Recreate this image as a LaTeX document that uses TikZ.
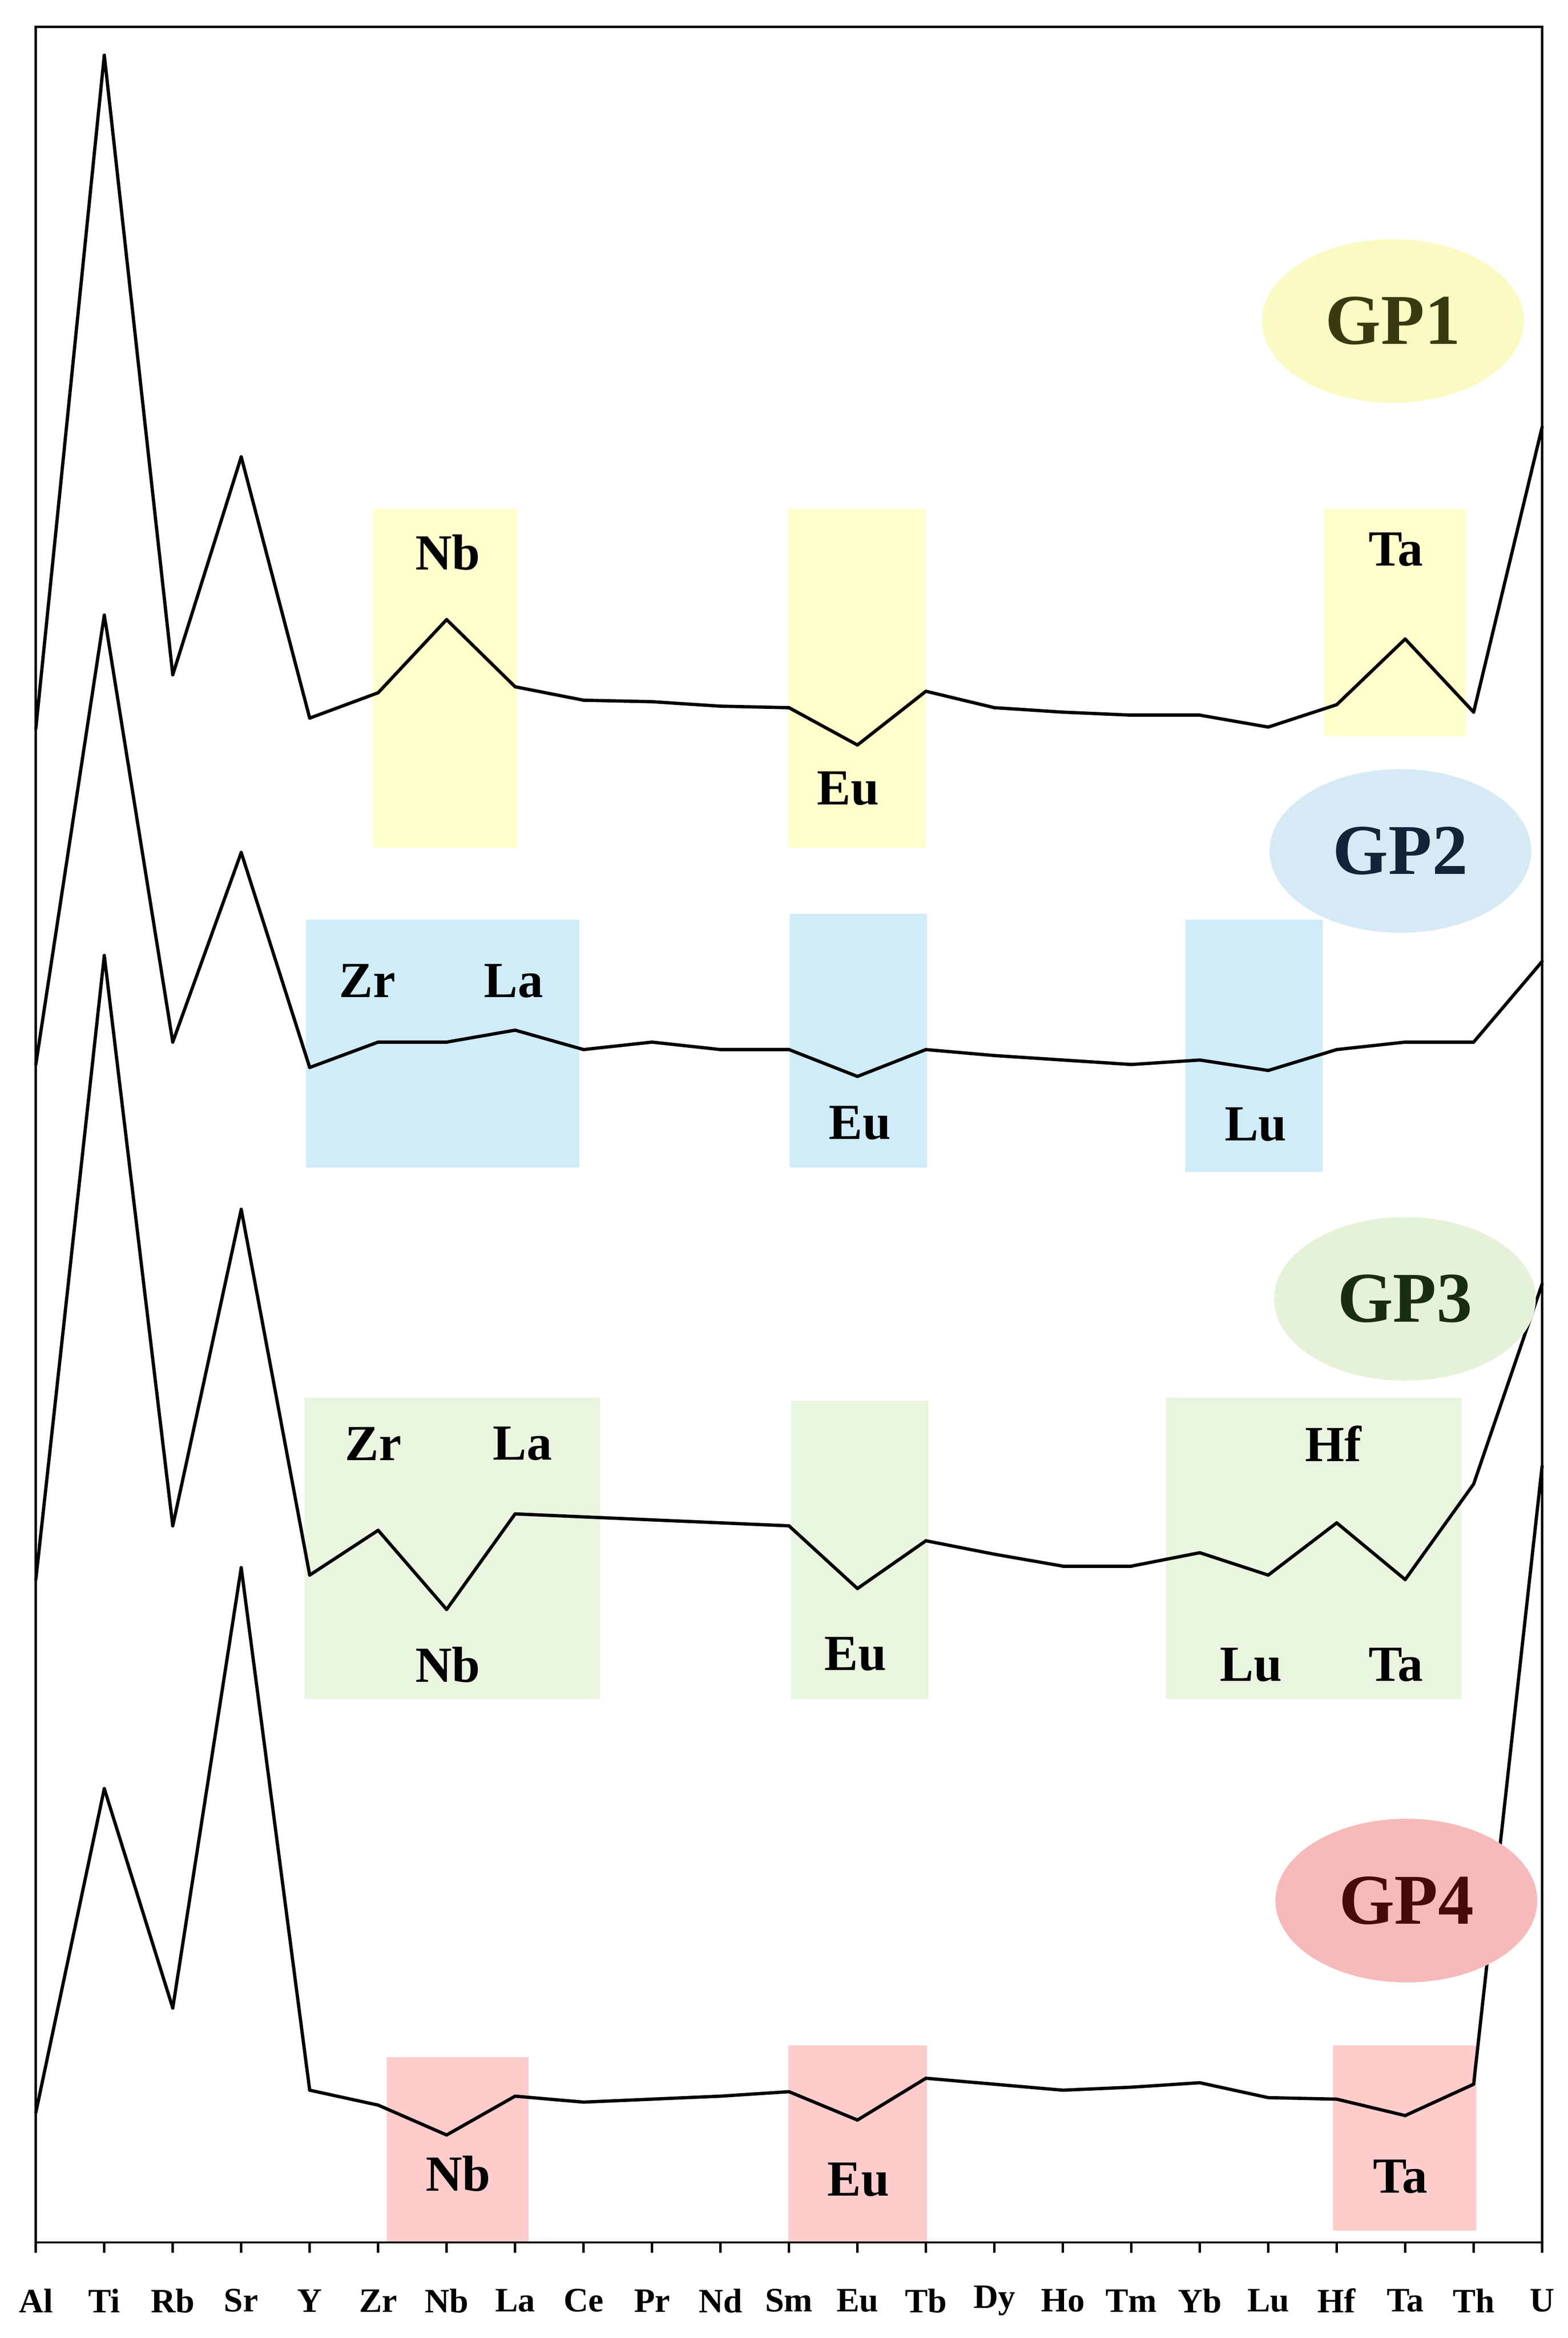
\documentclass[tikz,border=0pt]{standalone}
\usepackage{fontspec}
\setmainfont{Liberation Serif}
\definecolor{gpyellow}{RGB}{255,255,204}
\definecolor{gpblue}{RGB}{208,236,248}
\definecolor{gpgreen}{RGB}{234,245,224}
\definecolor{gppink}{RGB}{255,204,204}
\definecolor{ellyellow}{RGB}{250,250,195}
\definecolor{ellblue}{RGB}{214,234,245}
\definecolor{ellgreen}{RGB}{230,242,216}
\definecolor{ellpink}{RGB}{246,186,186}
\tikzset{
  elabel/.style={font=\fontsize{34}{38}\selectfont\bfseries, inner sep=0.75pt},
  axlabel/.style={font=\fontsize{23}{26}\selectfont\bfseries, inner sep=0.75pt},
  gptag/.style={ellipse, minimum width=176, minimum height=110, inner sep=0pt, font=\fontsize{48}{52}\selectfont\bfseries},
  curve/.style={line width=2.2, line cap=round},
}
\usetikzlibrary{shapes.geometric}
\begin{document}
\begin{tikzpicture}[x=1bp,y=1bp,yscale=-1]
\useasboundingbox (0,0) rectangle (1050,1566);

%Highlight boxes GP1
\fill [gpyellow] (250,341) rectangle (346,568);
\fill [gpyellow] (528,341) rectangle (620,568);
\fill [gpyellow] (887,341) rectangle (982,493);
%Highlight boxes GP2
\fill [gpblue] (205,616) rectangle (388,782);
\fill [gpblue] (529,612) rectangle (621,782);
\fill [gpblue] (794,616) rectangle (886,785);
%Highlight boxes GP3
\fill [gpgreen] (204,936) rectangle (402,1138);
\fill [gpgreen] (530,938) rectangle (622,1138);
\fill [gpgreen] (781,936) rectangle (979,1138);
%Highlight boxes GP4
\fill [gppink] (259,1378) rectangle (354,1502);
\fill [gppink] (528,1370) rectangle (621,1502);
\fill [gppink] (893,1370) rectangle (989,1494);

%Frame
\draw [line width=1.5] (24,18) rectangle (1033,1502);

%Axis ticks and element labels
\foreach \el [count=\i from 0] in {Al,Ti,Rb,Sr,Y,Zr,Nb,La,Ce,Pr,Nd,Sm,Eu,Tb,Dy,Ho,Tm,Yb,Lu,Hf,Ta,Th,U} {
  \draw [line width=1.5] ({24+\i*45.86},1502) -- ({24+\i*45.86},1509);
  \node (ax\el) [axlabel] at ({24+\i*45.86},1541) {\el};
}

%Curves
\foreach \ys in {
  {488,37,452,306,481,464,415,460,469,470,473,474,499,463,474,477,479,479,487,472,428,477,286},
  {713,412,698,571,715,698,698,690,703,698,703,703,721,703,707,710,713,710,717,703,698,698,644},
  {1058,640,1022,810,1055,1025,1078,1014,1016,1018,1020,1022,1064,1032,1041,1049,1049,1040,1055,1020,1058,994,860},
  {1415,1198,1345,1050,1400,1410,1430,1404,1408,1406,1404,1401,1420,1392,1396,1400,1398,1395,1405,1406,1417,1396,982}} {
  \foreach \y [count=\i from 0, remember=\y as \yp (initially 0)] in \ys {
    \ifnum\i>0
      \draw [curve] ({24+(\i-1)*45.86},\yp) -- ({24+\i*45.86},\y);
    \fi
  }
}

%Group tags
\node (gp1) [gptag, fill=ellyellow, text={rgb,255:red,58;green,58;blue,16}] at (933,215) {GP1};
\node (gp2) [gptag, fill=ellblue, text={rgb,255:red,20;green,35;blue,55}] at (938,570) {GP2};
\node (gp3) [gptag, fill=ellgreen, text={rgb,255:red,25;green,45;blue,20}] at (941,870) {GP3};
\node (gp4) [gptag, fill=ellpink, text={rgb,255:red,70;green,10;blue,10}] at (942,1273) {GP4};

% Text Nodes GP1
\node (nba) [elabel] at (300,370) {Nb};
\node (eua) [elabel] at (568,528) {Eu};
\node (taa) [elabel] at (935,368) {Ta};
% Text Nodes GP2
\node (zrb) [elabel] at (246,657) {Zr};
\node (lab) [elabel] at (344,657) {La};
\node (eub) [elabel] at (576,752) {Eu};
\node (lub) [elabel] at (841,753) {Lu};
% Text Nodes GP3
\node (zrc) [elabel] at (250,967) {Zr};
\node (lac) [elabel] at (350,967) {La};
\node (nbc) [elabel] at (300,1115) {Nb};
\node (euc) [elabel] at (573,1108) {Eu};
\node (hfc) [elabel] at (893,967) {Hf};
\node (luc) [elabel] at (838,1115) {Lu};
\node (tac) [elabel] at (935,1115) {Ta};
% Text Nodes GP4
\node (nbd) [elabel] at (307,1456) {Nb};
\node (eud) [elabel] at (575,1460) {Eu};
\node (tad) [elabel] at (938,1458) {Ta};

\end{tikzpicture}
\end{document}
